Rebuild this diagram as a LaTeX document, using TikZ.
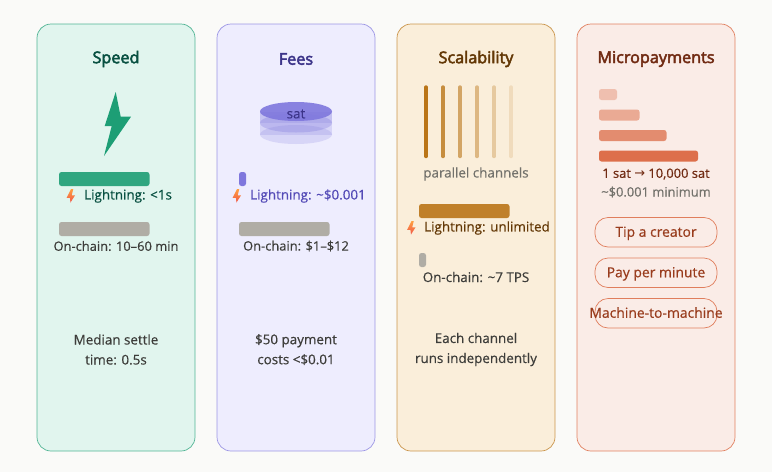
\documentclass[tikz,border=0pt]{standalone}
\usepackage{fontspec}
\setmainfont[FakeBold=.45]{Open Sans}
\newfontfamily\headfont[FakeBold=3]{Open Sans}
\newfontfamily\arrowfont{DejaVu Sans}
\definecolor{pagebg}{HTML}{FAFAF8}
\definecolor{tealbg}{HTML}{E1F5EE}
\definecolor{tealline}{HTML}{1D9E75}
\definecolor{tealdark}{HTML}{085041}
\definecolor{purplebg}{HTML}{EEEDFE}
\definecolor{purpleline}{HTML}{7F77DD}
\definecolor{purpledark}{HTML}{3C3489}
\definecolor{purpletext}{HTML}{534AB7}
\definecolor{amberbg}{HTML}{FAEEDA}
\definecolor{amberline}{HTML}{BA7517}
\definecolor{amberdark}{HTML}{633806}
\definecolor{coralbg}{HTML}{FAECE7}
\definecolor{coralline}{HTML}{D85A30}
\definecolor{coraldark}{HTML}{712B13}
\definecolor{coraltext}{HTML}{993C1D}
\definecolor{barstone}{HTML}{B0ADA5}
\definecolor{inkgray}{HTML}{3D3D3A}
\definecolor{softgray}{HTML}{73726C}
\definecolor{bolttop}{HTML}{FFA040}
\definecolor{boltlow}{HTML}{F0584A}
\begin{document}
\begin{tikzpicture}[x=1pt,y=-1pt,
    card/.style={line width=.7pt,rounded corners=14pt,draw opacity=.75},
    heading/.style={font={\fontsize{16.2}{18}\headfont}},
    body/.style={font={\fontsize{13.4}{20}\selectfont},inner sep=0pt,align=center},
    tight/.style={font={\fontsize{12.9}{20}\selectfont},inner sep=0pt,align=center},
    bar/.style={rounded corners=2.5pt},
    pill/.style={draw=coralline,draw opacity=.75,line width=.7pt,rounded corners=13pt},
    pilltext/.style={font={\fontsize{13.9}{20}\selectfont},inner sep=0pt,text=coraltext,text height=10.5pt,text depth=2pt},
    bolt/.pic={\shade[top color=bolttop,bottom color=boltlow]
        (.6,-7) -- (-3.8,1.8) -- (-.6,1.8) -- (0,6.5) -- (4.5,-.6) -- (1.2,-.6) -- (2.8,-7) -- cycle;}]

    \useasboundingbox (0,0) rectangle (772,472);
    \fill[pagebg] (0,0) rectangle (772,472);

    % speed
    \draw[card,fill=tealbg,draw=tealline] (37,24) rectangle (195,451);
    \node[heading,text=tealdark] (speedtitle) at (116,59) {Speed};
    \fill[tealline] (115.7,92) -- (120.7,116.7) -- (131,116.7) -- (104,156) -- (111.7,126) -- (104.7,126) -- cycle;
    \fill[bar,tealline,fill opacity=.9] (59,172) rectangle (149.5,186);
    \pic at (70.5,196) {bolt};
    \node[body,anchor=west,text=tealdark] (speedfast) at (84,196) {Lightning: <1s};
    \fill[bar,barstone] (59,222) rectangle (149.5,236);
    \node[tight,text=inkgray] (speedslow) at (116,246) {On-chain: 10–60 min};
    \node[body,text=inkgray] (speednote) at (116,349.5) {Median settle\\time: 0.5s};

    % fees
    \draw[card,fill=purplebg,draw=purpleline] (217,24) rectangle (375,451);
    \node[heading,text=purpledark] (feestitle) at (296,59) {Fees};
    \fill[purpleline,opacity=.2] (260,111.5) rectangle (332,134.5);
    \fill[purpleline,opacity=.2] (296,134.5) ellipse[x radius=36,y radius=9.5];
    \fill[purpleline,opacity=.2] (260,111.5) rectangle (332,123);
    \fill[purpleline,opacity=.3] (296,123) ellipse[x radius=36,y radius=9.5];
    \fill[purpleline,opacity=.9] (296,111.5) ellipse[x radius=36,y radius=9.5];
    \node[body,text=purpledark] (coinlabel) at (296,114) {sat};
    \fill[bar,purpleline] (239,172) rectangle (246,186);
    \pic at (236.5,196) {bolt};
    \node[body,anchor=west,text=purpletext] (feesfast) at (250,196) {Lightning: \textasciitilde\$0.001};
    \fill[bar,barstone] (239,222) rectangle (329.5,236);
    \node[tight,text=inkgray] (feesslow) at (296,246) {On-chain: \$1–\$12};
    \node[body,text=inkgray] (feesnote) at (296,349.5) {\$50 payment\\costs <\$0.01};

    % scalability
    \draw[card,fill=amberbg,draw=amberline] (397,24) rectangle (555,451);
    \node[heading,text=amberdark] (scaletitle) at (476,59) {Scalability};
    \foreach \cx/\op in {426/1,443/.8,460/.6,477/.45,494/.3,511/.15}
        \draw[amberline,line width=3.4pt,line cap=round,opacity=\op] (\cx,87) -- (\cx,156.5);
    \node[body,text=softgray] (scalecaption) at (476,174) {parallel channels};
    \fill[bar,amberline,fill opacity=.9] (419,204) rectangle (509.5,218);
    \pic at (411,228) {bolt};
    \node[body,anchor=west,text=amberdark] (scalefast) at (424,228) {Lightning: unlimited};
    \fill[bar,barstone] (419,253) rectangle (426,267);
    \node[body,text=inkgray] (scaleslow) at (476,277) {On-chain: \textasciitilde7 TPS};
    \node[body,text=inkgray] (scalenote) at (476,349.5) {Each channel\\runs independently};

    % micropayments
    \draw[card,fill=coralbg,draw=coralline] (577,24) rectangle (735,451);
    \node[heading,text=coraldark] (microtitle) at (656,59) {Micropayments};
    \foreach \cy/\w/\op in {89/18/.3,109.5/40.5/.45,130/67.5/.65,150.5/99/.85}
        \fill[bar,coralline,fill opacity=\op] (599,\cy) rectangle (599+\w,\cy+11);
    \node[tight,text=coraldark] (microrange) at (656,174) {1 sat {\arrowfont →} 10,000 sat};
    \node[tight,text=softgray] (micromin) at (656,192) {\textasciitilde\$0.001 minimum};
    \foreach \cy in {217.5,258,298.5}
        \draw[pill] (595,\cy) rectangle (717,\cy+29.5);
    \node[pilltext] (tip) at (656,232.5) {Tip a creator};
    \node[pilltext] (perminute) at (656,273) {Pay per minute};
    \node[pilltext] (machine) at (656,313.5) {Machine-to-machine};

\end{tikzpicture}
\end{document}
